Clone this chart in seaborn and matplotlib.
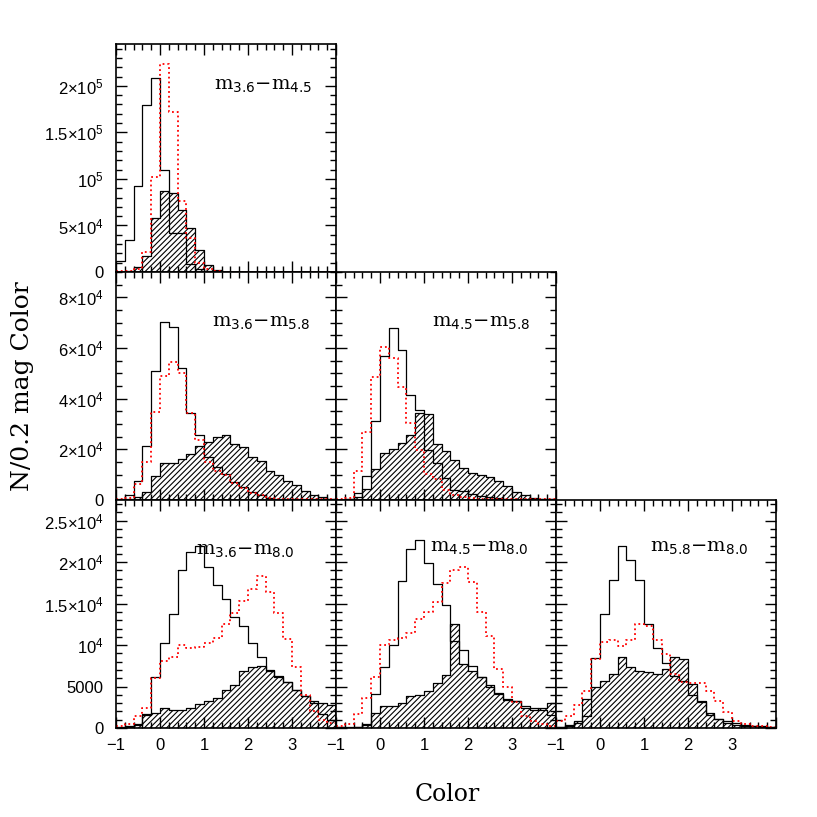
import matplotlib
matplotlib.use("Agg")
import matplotlib.pyplot as plt
import matplotlib.ticker as mticker
import numpy as np
import pandas as pd
import seaborn as sns

# bins: 0.2 mag from -1 to 4
bin_edges = np.linspace(-1.0, 4.0, 26)
bin_centers = 0.5 * (bin_edges[:-1] + bin_edges[1:])

# [3.6]-[4.5]
total_36_45 = [11500, 34000, 92000, 179000, 209000, 110000, 42000, 42000, 9000, 3000,
               700, 200, 0, 0, 0, 0, 0, 0, 0, 0, 0, 0, 0, 0, 0]
red_36_45 = [1400, 1400, 3000, 21500, 102000, 224000, 172000, 76000, 36000, 10000,
             3000, 700, 0, 0, 0, 0, 0, 0, 0, 0, 0, 0, 0, 0, 0]
hatch_36_45 = [0, 1000, 5000, 17000, 58000, 87000, 85000, 67000, 47000, 24000,
               7500, 2000, 400, 0, 0, 0, 0, 0, 0, 0, 0, 0, 0, 0, 0]

# [3.6]-[5.8]
total_36_58 = [300, 1800, 7400, 21300, 50900, 70400, 68400, 52100, 34200, 25500,
               17100, 13200, 10300, 7100, 5300, 3200, 2000, 900, 500, 200,
               200, 200, 200, 200, 200]
red_36_58 = [500, 800, 6300, 15000, 34600, 49000, 54500, 50000, 34200, 23700,
             15100, 11300, 9700, 6800, 4600, 2600, 1800, 900, 500, 200,
             200, 200, 200, 200, 200]
hatch_36_58 = [100, 500, 1300, 3200, 9500, 14700, 14500, 16000, 18200, 21300,
               22900, 24700, 25800, 22100, 20800, 17100, 15300, 11600, 9900, 7400,
               5800, 3700, 1800, 1100, 500]

# [4.5]-[5.8]
total_45_58 = [0, 500, 2600, 9500, 31300, 57000, 67800, 59200, 41300, 35500,
               19700, 14500, 8600, 3900, 3400, 2400, 1600, 1000, 700, 300,
               300, 300, 300, 300, 300]
red_45_58 = [500, 700, 11300, 26800, 48400, 60500, 55900, 44500, 30300, 19700,
             10300, 8200, 3900, 2000, 1300, 800, 500, 300, 300, 300,
             300, 300, 300, 300, 300]
hatch_45_58 = [0, 300, 1300, 4500, 12400, 18700, 20000, 22600, 25800, 34500,
               34000, 22100, 19200, 15800, 12600, 10500, 10000, 8900, 7600, 5500,
               3200, 1800, 800, 500, 300]

# [3.6]-[8.0]
total_36_80 = [100, 200, 500, 1600, 6100, 10200, 13700, 19100, 21200, 22000,
               19400, 17300, 15600, 13400, 12300, 10200, 8600, 7000, 6200, 5500,
               4600, 3800, 3000, 1700, 1000]
red_36_80 = [200, 450, 1400, 2400, 6000, 8100, 8600, 10000, 9600, 9800,
             10200, 10900, 12600, 13900, 15300, 16800, 18300, 16400, 13900, 10700,
             7300, 4000, 2100, 1000, 600]
hatch_36_80 = [0, 100, 400, 1700, 1800, 2400, 2200, 2200, 2400, 2900,
               3200, 3600, 4600, 5200, 6900, 7400, 7500, 6900, 6300, 5600,
               4600, 3800, 3200, 3000, 2800]

# [4.5]-[8.0]
total_45_80 = [100, 100, 100, 400, 4100, 7300, 10000, 17700, 21600, 22700,
               19900, 17400, 14800, 10500, 9400, 7500, 6100, 4900, 4200, 3500,
               3200, 2700, 2400, 2200, 1600]
red_45_80 = [200, 500, 1700, 3600, 6100, 10000, 10600, 10900, 11400, 13200,
             14000, 15200, 17500, 19000, 19400, 17600, 14000, 11100, 7100, 5000,
             3100, 1400, 800, 450, 300]
hatch_45_80 = [100, 0, 100, 500, 1800, 2700, 2700, 3000, 3900, 4000,
               4500, 5400, 6400, 12500, 7700, 6900, 6100, 5200, 4100, 3400,
               3200, 2400, 2200, 2400, 3000]

# [5.8]-[8.0]
total_58_80 = [100, 200, 600, 1400, 8500, 13700, 17800, 21900, 20300, 17800,
               12600, 9600, 7900, 6300, 5700, 4000, 3100, 1600, 1100, 800,
               600, 400, 300, 200, 100]
red_58_80 = [800, 1400, 2800, 4500, 8300, 10400, 10600, 9900, 10600, 12500,
             12300, 10600, 8900, 6500, 5600, 5400, 5400, 4500, 3200, 1900,
             800, 450, 300, 200, 100]
hatch_58_80 = [150, 400, 850, 3500, 5000, 5700, 6500, 8600, 7400, 6900,
               6700, 6500, 7100, 8600, 8300, 5300, 3200, 1800, 1100, 600,
               400, 300, 200, 100, 100]

# panel layout: (row, col, label, total, red, hatched, label position)
panels = [
    (0, 0, ("3.6", "4.5"), total_36_45, red_36_45, hatch_36_45, (0.67, 0.82)),
    (1, 0, ("3.6", "5.8"), total_36_58, red_36_58, hatch_36_58, (0.66, 0.78)),
    (1, 1, ("4.5", "5.8"), total_45_58, red_45_58, hatch_45_58, (0.66, 0.78)),
    (2, 0, ("3.6", "8.0"), total_36_80, red_36_80, hatch_36_80, (0.59, 0.78)),
    (2, 1, ("4.5", "8.0"), total_45_80, red_45_80, hatch_45_80, (0.65, 0.79)),
    (2, 2, ("5.8", "8.0"), total_58_80, red_58_80, hatch_58_80, (0.65, 0.79)),
]

row_ylim = [2.45e5, 9.0e4, 2.75e4]
row_major = [
    ([0, 5e4, 1e5, 1.5e5, 2e5],
     ["0", r"$5{\times}10^4$", r"$10^5$", r"$1.5{\times}10^5$", r"$2{\times}10^5$"]),
    ([0, 2e4, 4e4, 6e4, 8e4],
     ["0", r"$2{\times}10^4$", r"$4{\times}10^4$", r"$6{\times}10^4$", r"$8{\times}10^4$"]),
    ([0, 5000, 1e4, 1.5e4, 2e4, 2.5e4],
     ["0", "5000", r"$10^4$", r"$1.5{\times}10^4$", r"$2{\times}10^4$",
      r"$2.5{\times}10^4$"]),
]
row_minor = [1e4, 5e3, 1e3]
x_ticks = [-1, 0, 1, 2, 3, 4]
x_ticklabels = ["\u22121", "0", "1", "2", "3", ""]

sns.set_style("ticks")
plt.rcParams["font.family"] = ["Liberation Sans", "DejaVu Sans"]
plt.rcParams["mathtext.fontset"] = "custom"
plt.rcParams["mathtext.rm"] = "Liberation Sans"
plt.rcParams["mathtext.it"] = "Liberation Sans:italic"
plt.rcParams["mathtext.sf"] = "Liberation Sans"
plt.rcParams["hatch.linewidth"] = 0.8
for key in ["axes.edgecolor", "xtick.color", "ytick.color", "text.color",
            "axes.labelcolor"]:
    plt.rcParams[key] = "black"

fig = plt.figure(figsize=(8.17, 8.17), dpi=100)
left0, width = 116 / 817, 220 / 817
height = 228 / 817
bottoms = [(817 - 272) / 817, (817 - 500) / 817, (817 - 728) / 817]

hist_kws = dict(x="color", binwidth=0.2, binrange=(-1, 4), element="step")

for row, col, (c1, c2), total, red, hatched, (tx, ty) in panels:
    ax = fig.add_axes([left0 + col * width, bottoms[row], width, height])
    df = pd.DataFrame({"color": bin_centers, "total": total, "red": red,
                       "hatched": hatched})
    sns.histplot(data=df, weights="hatched", fill=True, color="black",
                 facecolor="none", edgecolor="black", hatch="//////",
                 linewidth=0.9, ax=ax, **hist_kws)
    sns.histplot(data=df, weights="total", fill=False, color="black",
                 linewidth=0.9, ax=ax, **hist_kws)
    sns.histplot(data=df, weights="red", fill=False, color="red",
                 linestyle=":", linewidth=1.3, ax=ax, **hist_kws)

    ax.set_xlim(-1, 4)
    ax.set_ylim(0, row_ylim[row])
    ax.set_xlabel("")
    ax.set_ylabel("")

    ax.set_xticks(x_ticks)
    ax.xaxis.set_minor_locator(mticker.MultipleLocator(0.2))
    ax.set_yticks(row_major[row][0])
    ax.yaxis.set_minor_locator(mticker.MultipleLocator(row_minor[row]))
    ax.tick_params(which="both", direction="in", top=True, right=True,
                   width=1.0, labelsize=12)
    ax.tick_params(axis="y", pad=9)
    ax.tick_params(axis="x", pad=7)
    ax.tick_params(which="major", length=8)
    ax.tick_params(which="minor", length=4)

    if row == 2:
        ax.set_xticklabels(x_ticklabels)
    else:
        ax.set_xticklabels([])
    if col == 0:
        ax.set_yticklabels(row_major[row][1])
    else:
        ax.set_yticklabels([])
    for s in ax.spines.values():
        s.set_linewidth(1.2)

    ax.text(tx, ty, r"$\mathrm{m}_{\mathsf{%s}}{-}\mathrm{m}_{\mathsf{%s}}$" % (c1, c2),
            transform=ax.transAxes, ha="center", va="center", fontsize=14,
            math_fontfamily="dejavuserif")

fig.text(0.547, 0.027, "Color", ha="center", va="center", fontsize=17,
         family="DejaVu Serif")
fig.text(0.028, 0.527, "N/0.2 mag Color", ha="center", va="center", fontsize=18,
         family="DejaVu Serif", rotation=90)

fig.savefig("out.png", dpi=100)
